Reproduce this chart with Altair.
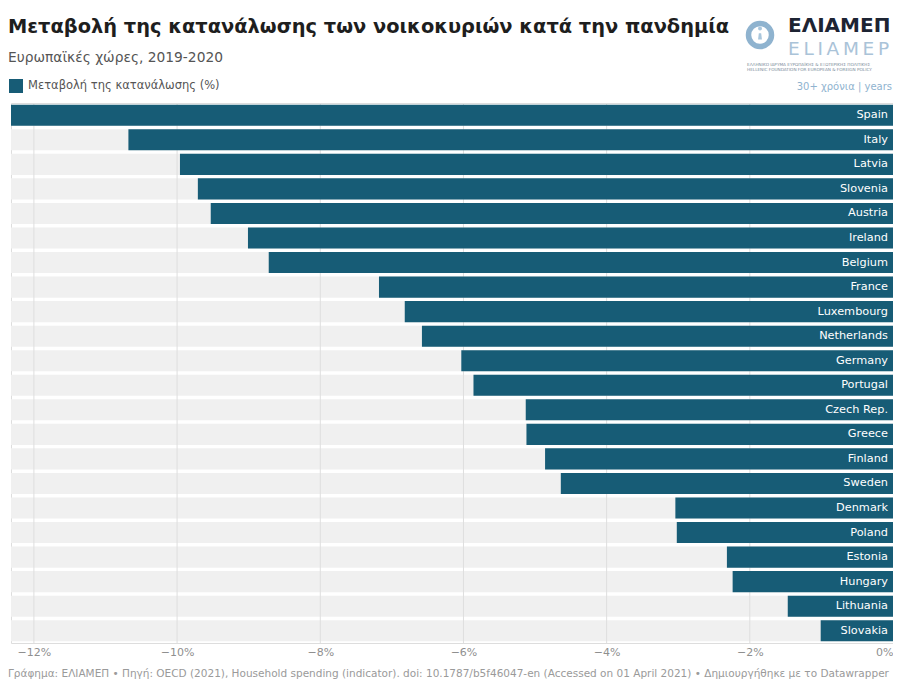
import altair as alt
import pandas as pd

countries = ["Spain", "Italy", "Latvia", "Slovenia", "Austria", "Ireland", "Belgium",
             "France", "Luxembourg", "Netherlands", "Germany", "Portugal", "Czech Rep.",
             "Greece", "Finland", "Sweden", "Denmark", "Poland", "Estonia", "Hungary",
             "Lithuania", "Slovakia"]
values = [-12.32, -10.68, -9.96, -9.71, -9.53, -9.01, -8.72,
          -7.18, -6.82, -6.58, -6.03, -5.86, -5.13,
          -5.12, -4.86, -4.64, -3.04, -3.02, -2.32, -2.24,
          -1.47, -1.01]
grid_ticks = [-12, -10, -8, -6, -4, -2]
axis_ticks = [-12, -10, -8, -6, -4, -2, 0]
series_name = "Μεταβολή της κατανάλωσης (%)"

TITLE = "Μεταβολή της κατανάλωσης των νοικοκυριών κατά την πανδημία"
SUBTITLE = "Ευρωπαϊκές χώρες, 2019-2020"
FOOTER = ("Γράφημα: ΕΛΙΑΜΕΠ • Πηγή: OECD (2021), Household spending (indicator). "
          "doi: 10.1787/b5f46047-en (Accessed on 01 April 2021) • Δημιουργήθηκε με το Datawrapper")

BLUE = "#175c76"
BAND = "#f0f0f0"
FONT = "DejaVu Sans"
W, H = 882, 540
XMIN = min(values)

df = pd.DataFrame({"country": countries, "value": values, "series": series_name})
grid_df = pd.DataFrame({"t": grid_ticks})
one = pd.DataFrame({"a": [0]})

yenc = alt.Y("country:N", sort=countries, axis=None,
             scale=alt.Scale(paddingInner=0.14, paddingOuter=0.07))
xscale = alt.Scale(domain=[XMIN, 0], nice=False, zero=False)

band = alt.Chart(df).mark_bar(color=BAND).encode(
    x=alt.datum(XMIN, scale=xscale, type="quantitative",
                axis=alt.Axis(values=axis_ticks, grid=False, domain=False, ticks=False, title=None,
                              labelExpr="datum.value == 0 ? '0%' : '−' + abs(datum.value) + '%'",
                              labelFontSize=11, labelColor="#8f8f8f", labelFont=FONT,
                              labelPadding=3, labelFlush=True)),
    x2=alt.datum(0),
    y=yenc,
)

grid = alt.Chart(grid_df).mark_rule(color="#dedede", strokeWidth=1).encode(
    x=alt.X("t:Q", scale=xscale),
    y=alt.value(0), y2=alt.value(H),
)

bars = alt.Chart(df).mark_bar().encode(
    x=alt.X("value:Q", scale=xscale),
    x2=alt.datum(0),
    y=yenc,
    color=alt.Color("series:N", scale=alt.Scale(range=[BLUE]),
                    legend=alt.Legend(orient="none", legendX=-2, legendY=-24, title=None,
                                      symbolType="square", symbolSize=196, symbolStrokeWidth=0,
                                      symbolOpacity=1, labelFontSize=11.5, labelFont=FONT,
                                      labelColor="#555555", labelOffset=5, padding=0,
                                      labelLimit=400)),
)

labels = alt.Chart(df).mark_text(align="right", baseline="middle", dx=-5, color="white",
                                 fontSize=11.3, font=FONT).encode(
    x=alt.datum(0), y=yenc, text="country:N",
)


def txt(text, x, y, size, color, weight="normal", align="left", font=FONT):
    return alt.Chart(one).mark_text(text=text, align=align, baseline="alphabetic", fontSize=size,
                                    fontWeight=weight, color=color, font=font).encode(
        x=alt.value(x), y=alt.value(y))


title = txt(TITLE, -3, -70, 19.4, "#1e1e1e", weight="bold")
subtitle = txt(SUBTITLE, -3, -41, 13.8, "#555555")
footer = txt(FOOTER, -3, 574, 10.5, "#9a9a9a")

ring = alt.Chart(one).mark_point(shape="circle", filled=False, size=530, strokeWidth=5.5,
                                 color="#8fb3cf", opacity=1).encode(
    x=alt.value(749), y=alt.value(-68))
key = alt.Chart(one).mark_point(
    shape="M0,-0.7 A0.3,0.3 0 1,1 0.01,-0.7 Z M-0.18,-0.25 L0.18,-0.25 L0.3,0.7 L-0.3,0.7 Z",
    filled=True, size=170, color="#a9c6dc", opacity=1).encode(
    x=alt.value(749), y=alt.value(-68))
logo1 = txt("ΕΛΙΑΜΕΠ", 777, -71, 20, "#1d2433", weight="bold")
logo2 = txt("E\u2009L\u2009I\u2009A\u2009M\u2009E\u2009P", 777, -48, 18.5, "#aac3d8")
logo3 = txt("ΕΛΛΗΝΙΚΟ ΙΔΡΥΜΑ ΕΥΡΩΠΑΪΚΗΣ & ΕΞΩΤΕΡΙΚΗΣ ΠΟΛΙΤΙΚΗΣ", 736, -37, 4.2, "#7a8a99")
logo4 = txt("HELLENIC FOUNDATION FOR EUROPEAN & FOREIGN POLICY", 736, -32, 4.2, "#7a8a99")
logo5 = txt("30+ χρόνια | years", 881, -13, 10, "#8fb3cf", align="right")

chart = alt.layer(band, grid, bars, labels, title, subtitle, footer,
                  ring, key, logo1, logo2, logo3, logo4, logo5).properties(
    width=W, height=H,
    autosize=alt.AutoSizeParams(type="none"),
    padding={"left": 3, "top": 95, "right": 0, "bottom": 37},
).configure_view(stroke=None).configure(background="white")

chart.save("out.html", embed_options={"renderer": "svg", "actions": False})
